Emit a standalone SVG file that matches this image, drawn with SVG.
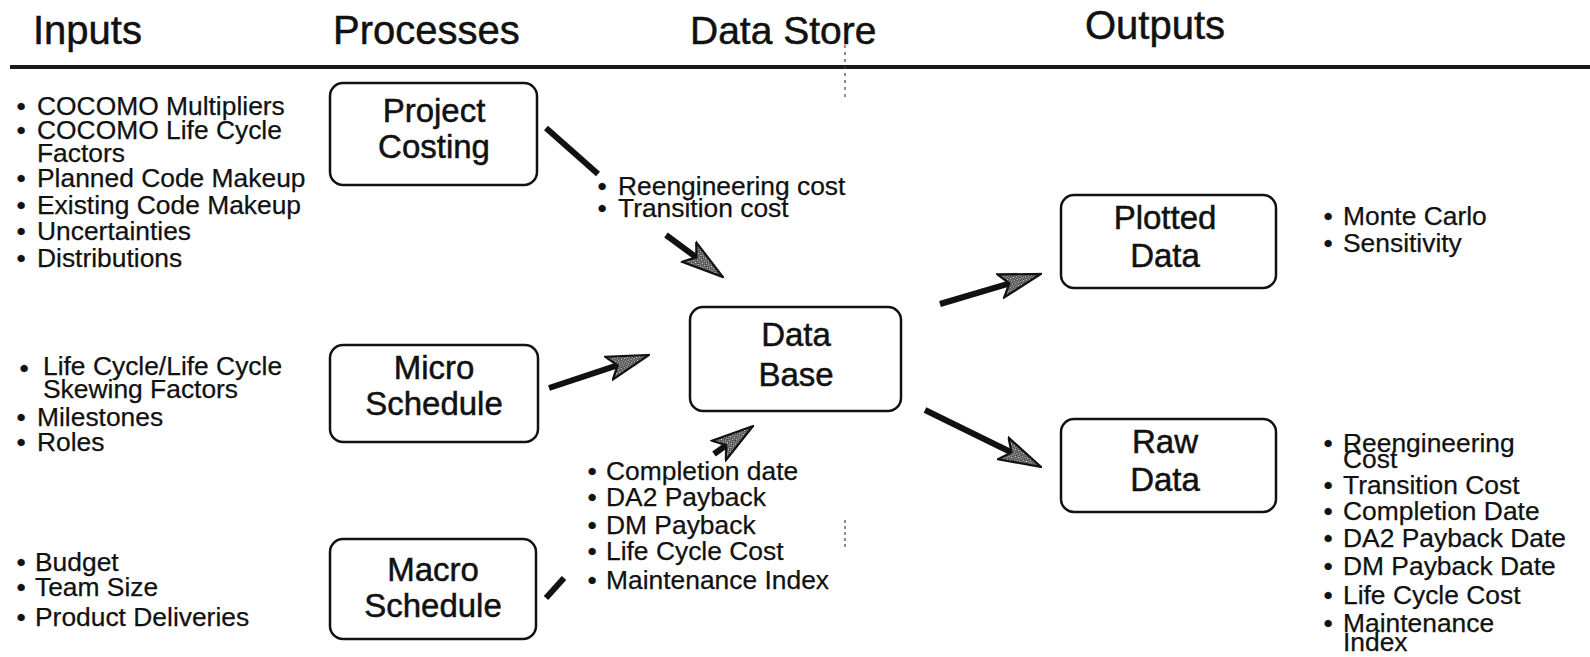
<svg xmlns="http://www.w3.org/2000/svg" width="1590" height="657" viewBox="0 0 1590 657">
  <style>
    .hdr { font-family: "Liberation Sans", Arial, sans-serif; font-size: 40px; fill: #111; stroke: #111; stroke-width: 0.5; }
    .box rect { fill: #fff; stroke: #111; stroke-width: 2.5; }
    .box text { font-family: "Liberation Sans", Arial, sans-serif; font-size: 33px; fill: #111; stroke: #111; stroke-width: 0.5; text-anchor: middle; }
    .lst { font-family: "Liberation Sans", Arial, sans-serif; font-size: 26.4px; fill: #111; stroke: #111; stroke-width: 0.25; }
    .bul { text-anchor: middle; }
    .wire { stroke: #111; stroke-width: 6; fill: none; stroke-linecap: butt; }
    .arr { marker-end: url(#head); }
  </style>
  <defs>
    <pattern id="stip" width="3" height="3" patternUnits="userSpaceOnUse">
      <rect width="3" height="3" fill="#2a2a2a"/>
      <rect width="1.2" height="1.2" fill="#fff"/>
      <rect x="1.5" y="1.5" width="1.2" height="1.2" fill="#fff"/>
    </pattern>
    <marker id="head" markerUnits="userSpaceOnUse" viewBox="0 0 44 28" markerWidth="44" markerHeight="28" refX="12" refY="14" orient="auto">
      <path d="M1,2 L43,14 L1,26 L10,14 Z" fill="url(#stip)" stroke="#111" stroke-width="2.2" stroke-linejoin="miter"/>
    </marker>
  </defs>

  <rect width="1590" height="657" fill="#fff"/>

  <!-- column headings and rule -->
  <g id="headings">
    <text class="hdr" x="33" y="44">Inputs</text>
    <text class="hdr" x="333" y="44">Processes</text>
    <text class="hdr" x="690" y="44" style="font-size:39px">Data Store</text>
    <text class="hdr" x="1085" y="39">Outputs</text>
    <line x1="10" y1="67" x2="1590" y2="67" stroke="#1a1a1a" stroke-width="4"/>
    <line x1="845" y1="45" x2="845" y2="100" stroke="#444" stroke-width="1.2" stroke-dasharray="3 4"/>
    <line x1="845" y1="520" x2="845" y2="550" stroke="#444" stroke-width="1.2" stroke-dasharray="3 3"/>
  </g>

  <!-- input lists -->
  <g id="inputs-costing" class="lst">
    <text class="bul" x="21" y="115">•</text><text x="37" y="115">COCOMO Multipliers</text>
    <text class="bul" x="21" y="139">•</text><text x="37" y="139">COCOMO Life Cycle</text>
    <text x="37" y="162">Factors</text>
    <text class="bul" x="21" y="187">•</text><text x="37" y="187">Planned Code Makeup</text>
    <text class="bul" x="21" y="214">•</text><text x="37" y="214">Existing Code Makeup</text>
    <text class="bul" x="21" y="240">•</text><text x="37" y="240">Uncertainties</text>
    <text class="bul" x="21" y="267">•</text><text x="37" y="267">Distributions</text>
  </g>
  <g id="inputs-micro" class="lst">
    <text class="bul" x="24" y="377">•</text><text x="43" y="375">Life Cycle/Life Cycle</text>
    <text x="43" y="398">Skewing Factors</text>
    <text class="bul" x="21" y="426">•</text><text x="37" y="426">Milestones</text>
    <text class="bul" x="21" y="451">•</text><text x="37" y="451">Roles</text>
  </g>
  <g id="inputs-macro" class="lst">
    <text class="bul" x="21" y="571">•</text><text x="35" y="571">Budget</text>
    <text class="bul" x="21" y="596">•</text><text x="35" y="596">Team Size</text>
    <text class="bul" x="21" y="626">•</text><text x="35" y="626">Product Deliveries</text>
  </g>

  <!-- process nodes -->
  <g id="project-costing" class="box">
    <rect x="330" y="83" width="207" height="102" rx="13"/>
    <text x="434" y="122">Project</text>
    <text x="434" y="158">Costing</text>
  </g>
  <g id="micro-schedule" class="box">
    <rect x="330" y="345" width="208" height="97" rx="13"/>
    <text x="434" y="379">Micro</text>
    <text x="434" y="415">Schedule</text>
  </g>
  <g id="macro-schedule" class="box">
    <rect x="330" y="539" width="206" height="100" rx="13"/>
    <text x="433" y="581">Macro</text>
    <text x="433" y="617">Schedule</text>
  </g>

  <!-- data store -->
  <g id="data-base" class="box">
    <rect x="690" y="307" width="211" height="104" rx="13"/>
    <text x="796" y="346">Data</text>
    <text x="796" y="386">Base</text>
  </g>

  <!-- output nodes -->
  <g id="plotted-data" class="box">
    <rect x="1061" y="195" width="215" height="93" rx="13"/>
    <text x="1165" y="229">Plotted</text>
    <text x="1165" y="267">Data</text>
  </g>
  <g id="raw-data" class="box">
    <rect x="1061" y="419" width="215" height="93" rx="13"/>
    <text x="1165" y="453">Raw</text>
    <text x="1165" y="491">Data</text>
  </g>

  <!-- flow labels -->
  <g id="costing-results" class="lst">
    <text class="bul" x="602" y="195">•</text><text x="618" y="195">Reengineering cost</text>
    <text class="bul" x="602" y="217">•</text><text x="618" y="217">Transition cost</text>
  </g>
  <g id="schedule-results" class="lst">
    <text class="bul" x="592" y="480">•</text><text x="606" y="480">Completion date</text>
    <text class="bul" x="592" y="506">•</text><text x="606" y="506">DA2 Payback</text>
    <text class="bul" x="592" y="534">•</text><text x="606" y="534">DM Payback</text>
    <text class="bul" x="592" y="560">•</text><text x="606" y="560">Life Cycle Cost</text>
    <text class="bul" x="592" y="589">•</text><text x="606" y="589">Maintenance Index</text>
  </g>

  <!-- output lists -->
  <g id="plotted-list" class="lst">
    <text class="bul" x="1328" y="225">•</text><text x="1343" y="225">Monte Carlo</text>
    <text class="bul" x="1328" y="252">•</text><text x="1343" y="252">Sensitivity</text>
  </g>
  <g id="raw-list" class="lst">
    <text class="bul" x="1328" y="452">•</text><text x="1343" y="452">Reengineering</text>
    <text x="1343" y="468">Cost</text>
    <text class="bul" x="1328" y="494">•</text><text x="1343" y="494">Transition Cost</text>
    <text class="bul" x="1328" y="520">•</text><text x="1343" y="520">Completion Date</text>
    <text class="bul" x="1328" y="547">•</text><text x="1343" y="547">DA2 Payback Date</text>
    <text class="bul" x="1328" y="575">•</text><text x="1343" y="575">DM Payback Date</text>
    <text class="bul" x="1328" y="604">•</text><text x="1343" y="604">Life Cycle Cost</text>
    <text class="bul" x="1328" y="632">•</text><text x="1343" y="632">Maintenance</text>
    <text x="1343" y="651">Index</text>
  </g>

  <!-- connectors -->
  <g id="connectors">
    <line class="wire" x1="546" y1="128" x2="598" y2="174"/>
    <line class="wire arr" x1="666" y1="235" x2="698" y2="258.6"/>
    <line class="wire arr" x1="549" y1="388" x2="619.5" y2="364.7"/>
    <line class="wire arr" x1="940" y1="304" x2="1011.3" y2="282.8"/>
    <line class="wire arr" x1="925" y1="410" x2="1013.2" y2="453.3"/>
    <line class="wire" x1="546" y1="598" x2="564" y2="578"/>
    <line class="wire arr" x1="714" y1="454" x2="727.8" y2="444.1"/>
  </g>
</svg>
